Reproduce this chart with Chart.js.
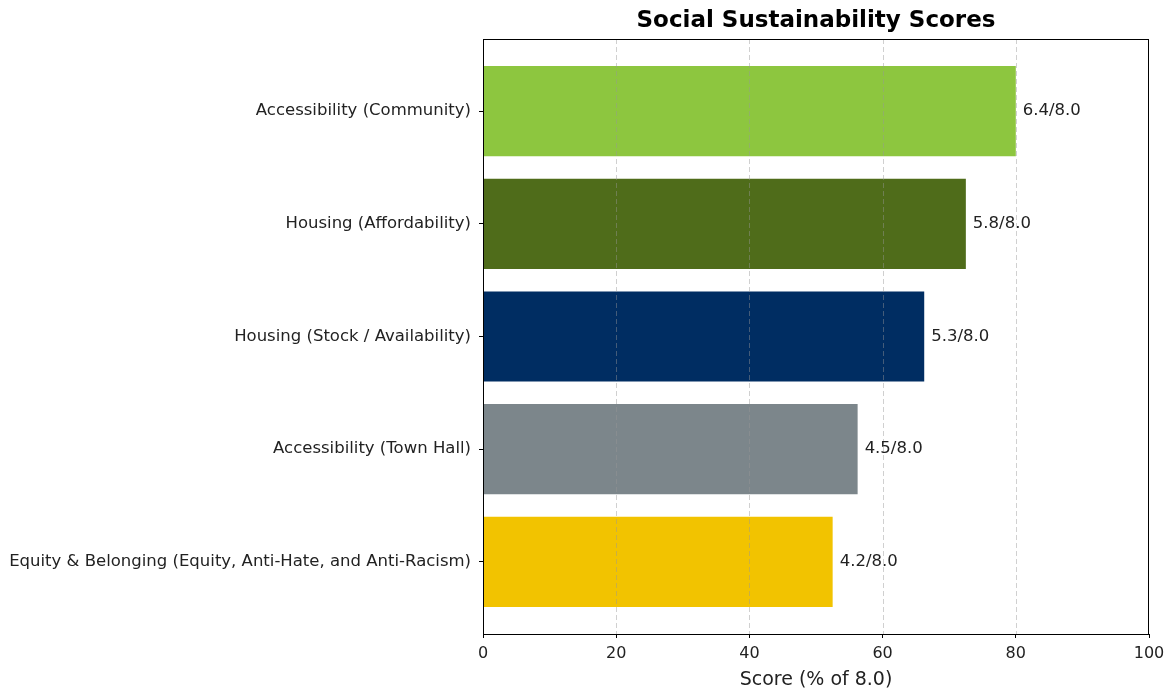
<!DOCTYPE html>
<html>
<head>
<meta charset="utf-8">
<script src="https://cdn.jsdelivr.net/npm/chart.js@4/dist/chart.umd.min.js"></script>
<style>
  html, body { margin: 0; padding: 0; background: #fff; }
  #wrap { width: 1166px; height: 694px; }
</style>
</head>
<body>
<div id="wrap"><canvas id="chart"></canvas></div>
<script>
const categories = [
  "Accessibility (Community)",
  "Housing (Affordability)",
  "Housing (Stock / Availability)",
  "Accessibility (Town Hall)",
  "Equity & Belonging (Equity, Anti-Hate, and Anti-Racism)",
];
const scores = [6.4, 5.8, 5.3, 4.5, 4.2];
const maxScore = 8.0;
const barColors = ["#8dc63f", "#4f6c1a", "#002d62", "#7c868b", "#f2c300"];
const xTicks = [0, 20, 40, 60, 80, 100];

const FONT = "'DejaVu Sans', sans-serif";

// percent of the max score, one point per category row
const points = scores.map((s, i) => ({ x: (s / maxScore) * 100, y: i }));

// title centered over the plot box, frame on all four sides, dashed grid over the bars
const decor = {
  id: "decor",
  afterDatasetsDraw(chart) {
    const { ctx, chartArea: a, scales } = chart;
    ctx.save();
    ctx.strokeStyle = "rgba(150,150,150,0.45)";
    ctx.lineWidth = 1;
    ctx.setLineDash([5, 3]);
    xTicks.slice(1, -1).forEach((t) => {
      const x = Math.round(scales.x.getPixelForValue(t)) + 0.5;
      ctx.beginPath();
      ctx.moveTo(x, a.top);
      ctx.lineTo(x, a.bottom);
      ctx.stroke();
    });
    ctx.setLineDash([]);

    // value labels at the bar ends
    ctx.fillStyle = "#222";
    ctx.font = "16.5px " + FONT;
    ctx.textBaseline = "middle";
    ctx.textAlign = "left";
    chart.getDatasetMeta(0).data.forEach((bar, i) => {
      ctx.fillText(scores[i].toFixed(1) + "/" + maxScore.toFixed(1), bar.x + 7, bar.y);
    });

    ctx.strokeStyle = "#000";
    ctx.strokeRect(Math.round(a.left) + 0.5, Math.round(a.top) + 0.5,
      Math.round(a.right - a.left) - 1, Math.round(a.bottom - a.top));

    ctx.fillStyle = "#000";
    ctx.font = "bold 23px " + FONT;
    ctx.textAlign = "center";
    ctx.fillText("Social Sustainability Scores", (a.left + a.right) / 2, a.top - 18);
    ctx.restore();
  },
};

new Chart(document.getElementById("chart"), {
  type: "bar",
  data: {
    datasets: [{
      data: points,
      backgroundColor: barColors,
      borderWidth: 0,
      barPercentage: 0.8,
      categoryPercentage: 1.0,
    }],
  },
  options: {
    indexAxis: "y",
    responsive: true,
    maintainAspectRatio: false,
    animation: false,
    layout: { padding: { top: 39, right: 17, left: 0, bottom: 0 } },
    plugins: { legend: { display: false }, tooltip: { enabled: false } },
    scales: {
      x: {
        type: "linear",
        min: 0,
        max: 100,
        afterBuildTicks: (s) => { s.ticks = xTicks.map((v) => ({ value: v })); },
        afterFit: (s) => { s.height = 60; s.paddingLeft = 0; s.paddingRight = 0; },
        grid: { drawOnChartArea: false, drawTicks: true, tickLength: 4, tickColor: "#000", tickBorderDash: [] },
        border: { color: "#000", width: 1 },
        ticks: { color: "#222", font: { family: FONT, size: 16 }, padding: 6, maxRotation: 0 },
        title: {
          display: true,
          text: "Score (% of 8.0)",
          color: "#222",
          font: { family: FONT, size: 19 },
          padding: { top: 0, bottom: 3 },
        },
      },
      y: {
        type: "linear",
        reverse: true,
        offset: false,
        min: -0.64,
        max: 4.64,
        afterBuildTicks: (s) => { s.ticks = categories.map((_, i) => ({ value: i })); },
        afterFit: (s) => { s.width = 483; s.paddingTop = 0; s.paddingBottom = 0; },
        grid: { offset: false, drawOnChartArea: false, drawTicks: true, tickLength: 4, tickColor: "#000" },
        border: { color: "#000", width: 1 },
        ticks: {
          color: "#222",
          font: { family: FONT, size: 16.5 },
          padding: 8,
          callback: (v) => categories[v],
        },
      },
    },
  },
  plugins: [decor],
});
</script>
</body>
</html>
